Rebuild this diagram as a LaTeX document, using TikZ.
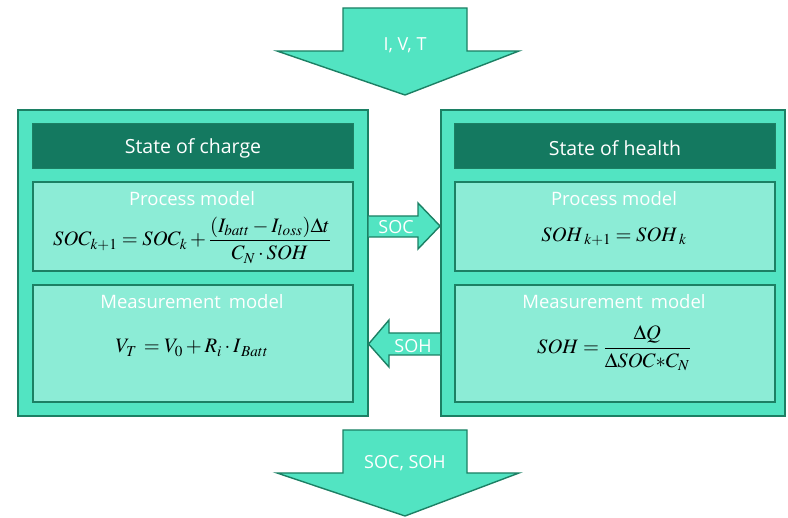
\documentclass[tikz,border=0pt]{standalone}
\usepackage{mathptmx}
\usepackage{fontspec}
\setmainfont{Open Sans}
\definecolor{aqua}{RGB}{82,228,194}
\definecolor{aqualight}{RGB}{140,236,214}
\definecolor{darkhead}{RGB}{20,121,96}
\definecolor{edge}{RGB}{28,128,100}
\begin{document}
\begin{tikzpicture}[x=1pt,y=-1pt,
  outerbox/.style={draw=edge,line width=1.6pt,fill=aqua,anchor=north west,inner sep=0pt},
  headbox/.style={draw=edge,line width=1pt,fill=darkhead,anchor=north west,inner sep=0pt},
  innerbox/.style={draw=edge,line width=1.6pt,fill=aqualight,anchor=north west,inner sep=0pt},
  blockarrow/.style={draw=edge,line width=1.4pt,fill=aqua,line join=miter},
  hlabel/.style={text=white,font=\fontsize{19.5}{22}\selectfont},
  wlabel/.style={text=white,font=\fontsize{18.5}{22}\selectfont},
  alabel/.style={text=white,font=\fontsize{18}{21}\selectfont},
  eq/.style={text=black,font=\fontsize{20.5}{24}\selectfont}]
\useasboundingbox (0,0) rectangle (788,518);
% top arrow
\draw[blockarrow] (343,8) -- (467,8) -- (467,51) -- (519,51) -- (405,95) -- (277,51) -- (343,51) -- cycle;
\node[alabel] (ivt) at (405,45) {I, V, T};
% bottom arrow
\draw[blockarrow] (343,430) -- (467,430) -- (467,473) -- (519,473) -- (405,516) -- (277,473) -- (343,473) -- cycle;
\node[alabel] (socsoh) at (405,463) {SOC, SOH};
% big boxes
\node[outerbox,minimum width=350pt,minimum height=306pt] (L) at (17,109) {};
\node[outerbox,minimum width=344pt,minimum height=306pt] (R) at (440,109) {};
% SOC arrow
\draw[blockarrow] (L.east |- 0,216) -- (418,216) -- (418,203) -- (R.west |- 0,226) -- (418,249) -- (418,237) -- (L.east |- 0,237);
\node[alabel] (socl) at (396,227) {SOC};
% SOH arrow
\draw[blockarrow] (R.west |- 0,333) -- (389,333) -- (389,320) -- (L.east |- 0,344) -- (389,367) -- (389,355) -- (R.west |- 0,355);
\node[alabel] (sohl) at (413,346) {SOH};
% left contents
\node[headbox,minimum width=321pt,minimum height=45pt] (Lh) at (32,123) {};
\node[hlabel,yshift=-2pt] at (Lh.center) {State of charge};
\node[innerbox,minimum width=320pt,minimum height=89pt] (Lp) at (32,181) {};
\node[wlabel] (Lpt) at (192,199) {Process model};
\node[eq] (Lpe) at (192,240) {$SOC_{k+1}=SOC_{k}+{\displaystyle\frac{(I_{batt}-I_{loss})\Delta t}{C_{N}\cdot SOH}}$};
\node[innerbox,minimum width=320pt,minimum height=117pt] (Lm) at (32,284) {};
\node[wlabel] (Lmt) at (192,302) {Measurement\, model};
\node[eq] (Lme) at (192,348) {$V_{T}\,=V_{0}+R_{i}\cdot I_{\,Batt}$};
% right contents
\node[headbox,minimum width=321pt,minimum height=45pt] (Rh) at (454,123) {};
\node[hlabel,yshift=-2pt] at (Rh.center) {State of health};
\node[innerbox,minimum width=320pt,minimum height=89pt] (Rp) at (454,181) {};
\node[wlabel] (Rpt) at (614,199) {Process model};
\node[eq] (Rpe) at (614,237) {$SOH_{\;k+1}=SOH_{\;k}$};
\node[innerbox,minimum width=320pt,minimum height=117pt] (Rm) at (454,284) {};
\node[wlabel] (Rmt) at (614,302) {Measurement\, model};
\node[eq] (Rme) at (614,348) {$SOH={\displaystyle\frac{\Delta Q}{\Delta SOC{*}C_{N}}}$};
\end{tikzpicture}
\end{document}
